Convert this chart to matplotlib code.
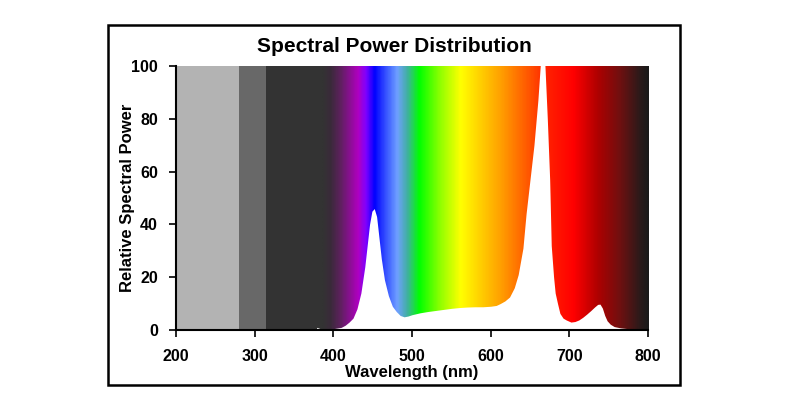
import numpy as np
import matplotlib
matplotlib.use("Agg")
import matplotlib.pyplot as plt
from matplotlib.colors import LinearSegmentedColormap
from matplotlib.patches import Rectangle

plt.rcParams['font.family'] = ['Liberation Sans', 'DejaVu Sans']
plt.rcParams['font.weight'] = 'bold'

# spectrum
wavelength = [378, 379, 381, 385, 390, 400, 410, 415, 420, 425, 430, 435, 440, 443,
              446, 449, 452, 455, 458, 461, 465, 470, 475, 480, 485, 490, 495, 500,
              510, 520, 530, 540, 550, 560, 570, 580, 590, 600, 607, 612, 618, 624,
              630, 635, 641, 645, 650, 655, 660, 663, 666, 669, 672, 675, 677, 680,
              682, 685, 688, 692, 696, 702, 707, 712, 717, 722, 727, 732, 736, 739,
              742, 745, 748, 752, 757, 765, 775, 790, 800]
power = [0, 1.0, 0.8, 0.3, 0.3, 0.5, 1.0, 1.8, 3.0, 4.5, 8, 14, 24, 32,
         40, 45, 46, 43, 35, 27, 19, 13, 9, 7, 5.5, 5, 5.3, 5.8,
         6.5, 7, 7.4, 7.8, 8.2, 8.5, 8.7, 8.8, 8.8, 9, 9.3, 10, 11, 12.5,
         16, 21, 31, 44, 57, 70, 87, 100, 115, 100, 80, 57, 32, 20,
         14, 10, 6.3, 4.5, 3.8, 3.0, 3.2, 3.8, 4.8, 6.0, 7.3, 8.7, 9.7, 9.8,
         8.3, 5.5, 3.5, 2.2, 1.3, 0.8, 0.5, 0.3, 0]

# background bands (uv region) and spectrum colour stops
band_edges = [200, 280, 315, 385]
band_colors = ['#b3b3b3', '#686868', '#333333']
stop_nm = [385, 395, 408, 430, 440, 451, 468, 480, 493, 508, 535, 561, 590, 612,
           650, 672, 705, 735, 764, 790, 800]
stop_colors = ['#333333', '#3a2a3a', '#602060', '#b000c0', '#8000ff', '#0000ff',
               '#4060ff', '#6fa0ff', '#40b0a0', '#00ff00', '#90ff00', '#ffff00',
               '#ffc800', '#ffa000', '#ff5000', '#ff2000', '#ff0000', '#b00000',
               '#701010', '#2a1a1a', '#1a1a1a']

fig = plt.figure(figsize=(8, 4), dpi=100)
ax = fig.add_axes([0.22, 0.175, 0.59, 0.66])

for i, c in enumerate(band_colors):
    ax.axvspan(band_edges[i], band_edges[i + 1], color=c, lw=0, zorder=0)

pos = [(s - stop_nm[0]) / (stop_nm[-1] - stop_nm[0]) for s in stop_nm]
cmap = LinearSegmentedColormap.from_list('spec', list(zip(pos, stop_colors)))
grad = np.linspace(0, 1, 600).reshape(1, -1)
ax.imshow(grad, cmap=cmap, aspect='auto', extent=[stop_nm[0], stop_nm[-1], 0, 100],
          zorder=1, interpolation='bilinear')

ax.fill_between(wavelength, 0, power, color='white', lw=0, zorder=2)

ax.set_xlim(200, 800)
ax.set_ylim(0, 100)
ax.set_xticks(range(200, 801, 100))
ax.set_yticks(range(0, 101, 20))
ax.tick_params(direction='out', length=5, width=1.2, labelsize=11.5)
ax.tick_params(axis='x', pad=8.5)
ax.tick_params(axis='y', pad=8)
for s in ['top', 'right']:
    ax.spines[s].set_visible(False)
for s in ['left', 'bottom']:
    ax.spines[s].set_linewidth(1.5)
    ax.spines[s].set_zorder(5)

ax.set_xlabel('Wavelength (nm)', fontsize=12, fontweight='bold')
ax.xaxis.set_label_coords(0.5, -0.133)
ax.set_ylabel('Relative Spectral Power', fontsize=12, fontweight='bold')
ax.yaxis.set_label_coords(-0.087, 0.5)
fig.text(0.4925, 0.885, 'Spectral Power Distribution', ha='center', va='center',
         fontsize=15, fontweight='bold')

fig.patches.append(Rectangle((0.135, 0.0375), 0.715, 0.9, transform=fig.transFigure,
                             fill=False, edgecolor='black', lw=1.8))

fig.savefig('out.png', dpi=100)
